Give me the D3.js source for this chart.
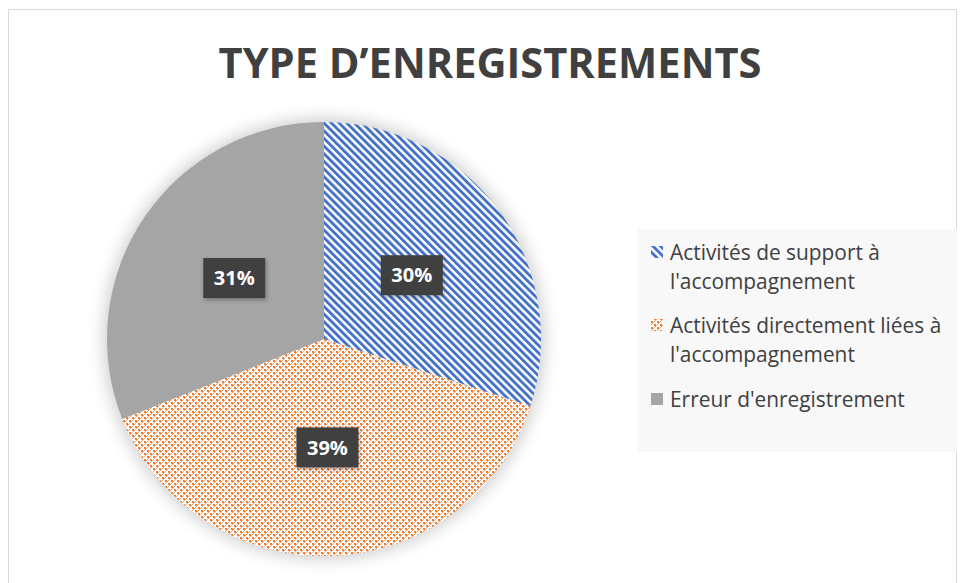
<!DOCTYPE html>
<html>
<head>
<meta charset="utf-8">
<script src="https://cdn.jsdelivr.net/npm/d3@7"></script>
<style>
  html, body { margin: 0; padding: 0; background: #fff; }
  svg { display: block; }
</style>
</head>
<body>
<svg id="chart" width="960" height="583"></svg>
<script>
const title = "TYPE D\u2019ENREGISTREMENTS";
const categories = [
  "Activités de support à l'accompagnement",
  "Activités directement liées à l'accompagnement",
  "Erreur d'enregistrement"
];
const values = [30, 39, 31];
const labels = ["30%", "39%", "31%"];
const colors = ["#4472C4", "#ED7D31", "#A5A5A5"];

const svg = d3.select("#chart");
const defs = svg.append("defs");

// Patterns
const pw = 5.4;
const pBlue = defs.append("pattern")
  .attr("id", "pat0").attr("patternUnits", "userSpaceOnUse")
  .attr("width", pw).attr("height", pw)
  .attr("patternTransform", "rotate(-45)");
pBlue.append("rect").attr("width", pw).attr("height", pw).attr("fill", "#fff");
pBlue.append("rect").attr("x", 0).attr("y", 0).attr("width", 2.9).attr("height", pw).attr("fill", colors[0]);

const pOr = defs.append("pattern")
  .attr("id", "pat1").attr("patternUnits", "userSpaceOnUse")
  .attr("width", 6).attr("height", 6);
pOr.append("rect").attr("width", 6).attr("height", 6).attr("fill", "#fff");
[[0,0],[3,3]].forEach(([x,y]) => pOr.append("rect").attr("x", x).attr("y", y).attr("width", 2).attr("height", 2).attr("fill", colors[1]));
[[3,0],[0,3],[2,1],[1,2],[5,4],[4,5]].forEach(([x,y]) => pOr.append("rect").attr("x", x).attr("y", y).attr("width", 1).attr("height", 1).attr("fill", "#F4A06A"));
const fills = ["url(#pat0)", "url(#pat1)", colors[2]];

const blur = defs.append("filter").attr("id", "glow").attr("x", "-20%").attr("y", "-20%").attr("width", "140%").attr("height", "140%");
blur.append("feGaussianBlur").attr("stdDeviation", 9);
const sh = defs.append("filter").attr("id", "bshadow").attr("x", "-30%").attr("y", "-30%").attr("width", "160%").attr("height", "160%");
sh.append("feDropShadow").attr("dx", 1).attr("dy", 2).attr("stdDeviation", 2).attr("flood-color", "#000").attr("flood-opacity", 0.3);

// Chart border
svg.append("rect").attr("x", 8.5).attr("y", 9.5).attr("width", 948).attr("height", 590)
  .attr("fill", "#fff").attr("stroke", "#d9d9d9").attr("stroke-width", 1);

// Title
const tt = svg.append("text").attr("x", 490).attr("y", 78).attr("text-anchor", "middle")
  .attr("font-family", "Open Sans, sans-serif").attr("font-weight", "bold")
  .attr("font-size", 40).attr("fill", "#404040").text(title);
const tw = tt.node().getComputedTextLength();
tt.attr("font-size", 40 * 543 / tw);

// Pie
const cx = 324, cy = 339, r = 217;
const g = svg.append("g").attr("transform", `translate(${cx},${cy})`);
g.append("circle").attr("r", r + 2).attr("fill", "#000").attr("opacity", 0.22).attr("filter", "url(#glow)");
const pie = d3.pie().sort(null).value(d => d)(values);
const arc = d3.arc().innerRadius(0).outerRadius(r);
g.selectAll("path.slice").data(pie).enter().append("path")
  .attr("class", "slice").attr("d", arc).attr("fill", (d, i) => fills[i]);

const lab = d3.arc().innerRadius(r * 0.5).outerRadius(r * 0.5);
const lg = g.selectAll("g.lab").data(pie).enter().append("g").attr("class", "lab")
  .attr("transform", d => { const c = lab.centroid(d); return `translate(${c[0]},${c[1]})`; });
lg.append("rect").attr("x", -31).attr("y", -20).attr("width", 62).attr("height", 40)
  .attr("fill", "#404040").attr("filter", "url(#bshadow)");
lg.append("text").attr("text-anchor", "middle").attr("dy", "0.36em")
  .attr("font-family", "Open Sans, sans-serif").attr("font-weight", "bold")
  .attr("font-size", 20).attr("fill", "#fff").text((d, i) => labels[i]);

// Legend
svg.append("rect").attr("x", 638).attr("y", 229).attr("width", 319).attr("height", 223).attr("fill", "#f8f8f8");
const legFont = "Open Sans, sans-serif";
const probe = svg.append("text").attr("font-family", legFont).attr("font-size", 20).text("Activités de support à");
const fs = 20 * 210 / probe.node().getComputedTextLength();
probe.remove();
const maxW = 282;
function wrap(str) {
  const words = str.split(" ");
  const lines = []; let cur = "";
  const t = svg.append("text").attr("font-family", legFont).attr("font-size", fs);
  words.forEach(w => {
    const test = cur ? cur + " " + w : w;
    t.text(test);
    if (t.node().getComputedTextLength() > maxW && cur) { lines.push(cur); cur = w; }
    else cur = test;
  });
  lines.push(cur); t.remove();
  return lines;
}
const groupY = [260, 333, 407];
const lineH = 28.5;
categories.forEach((c, i) => {
  const y0 = groupY[i];
  svg.append("rect").attr("x", 651).attr("y", y0 - 14).attr("width", 12).attr("height", 12).attr("fill", fills[i]);
  const t = svg.append("text").attr("font-family", legFont).attr("font-size", fs).attr("fill", "#404040");
  wrap(c).forEach((ln, j) => {
    t.append("tspan").attr("x", 670).attr("y", y0 + j * lineH).text(ln);
  });
});
</script>
</body>
</html>
